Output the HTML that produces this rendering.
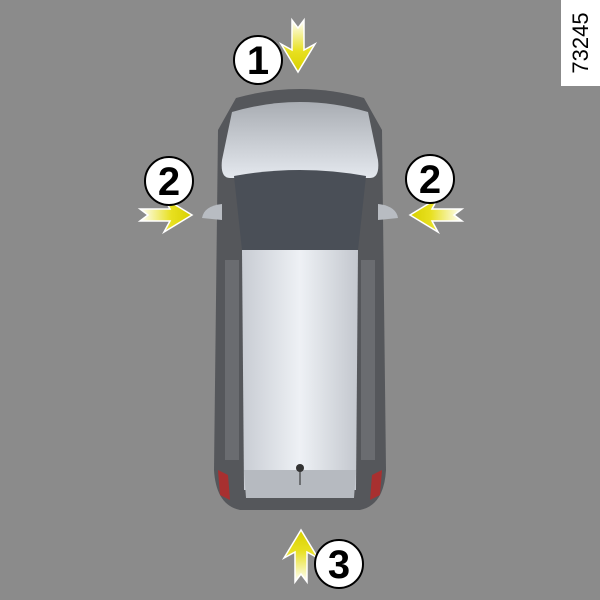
<!DOCTYPE html>
<html><head><style>body{margin:0;background:#8b8b8b}svg{display:block}</style></head><body>
<svg width="600" height="600" viewBox="0 0 600 600" xmlns="http://www.w3.org/2000/svg">
<defs>
<linearGradient id="ar" x1="0" y1="0" x2="1" y2="0"><stop offset="0" stop-color="#fff"/><stop offset="0.6" stop-color="#e8e020"/><stop offset="1" stop-color="#d8d000"/></linearGradient>
<linearGradient id="hood" x1="0" y1="0" x2="0" y2="1"><stop offset="0" stop-color="#a9adb3"/><stop offset="1" stop-color="#e4e8ee"/></linearGradient>
<linearGradient id="roof" x1="0" y1="0" x2="1" y2="0"><stop offset="0" stop-color="#c8ccd3"/><stop offset="0.5" stop-color="#eef1f5"/><stop offset="1" stop-color="#c3c7ce"/></linearGradient>
<g id="arrow"><path d="M0,-6 L30,-6 L24,-17 L52,0 L24,17 L30,6 L0,6 L8,0 Z" fill="url(#ar)" stroke="#fff" stroke-width="1.5"/></g>
</defs>
<rect width="600" height="600" fill="#8b8b8b"/>
<rect x="561" y="0" width="39" height="86" fill="#fff"/>
<text transform="translate(588,43) rotate(-90)" text-anchor="middle" font-family="Liberation Sans, sans-serif" font-size="22" fill="#000">73245</text>
<path d="M236,98 Q300,80 364,98 L382,130 L386,470 Q384,505 360,510 L240,510 Q216,505 214,470 L218,130 Z" fill="#55575b"/>
<path d="M232,112 Q300,92 368,112 L378,160 Q380,178 370,178 L230,178 Q220,178 222,160 Z" fill="url(#hood)"/>
<path d="M234,176 Q300,164 366,176 L358,250 L242,250 Z" fill="#4a4f57"/>
<path d="M242,250 L358,250 L356,490 L244,490 Z" fill="url(#roof)"/>
<path d="M244,470 L356,470 L354,498 L246,498 Z" fill="#b6bac0"/>
<rect x="225" y="260" width="14" height="200" fill="#6a6c70"/>
<rect x="361" y="260" width="14" height="200" fill="#6a6c70"/>
<path d="M218,470 L228,475 L230,500 L220,495 Z" fill="#a83030"/>
<path d="M382,470 L372,475 L370,500 L380,495 Z" fill="#a83030"/>
<path d="M202,218 Q204,206 222,204 L222,220 Z" fill="#b8bcc2"/>
<path d="M398,218 Q396,206 378,204 L378,220 Z" fill="#b8bcc2"/>
<line x1="300" y1="465" x2="300" y2="485" stroke="#222"/><circle cx="300" cy="468" r="4" fill="#333"/>
<use href="#arrow" transform="translate(140,215)"/>
<use href="#arrow" transform="translate(462,215) scale(-1,1)"/>
<use href="#arrow" transform="translate(298,20) rotate(90)"/>
<use href="#arrow" transform="translate(301,582) rotate(-90)"/>
<g font-family="Liberation Sans, sans-serif" font-weight="bold" font-size="40" text-anchor="middle" fill="#000">
<circle cx="258" cy="60" r="24" fill="#fff" stroke="#000" stroke-width="2"/><text x="258" y="74">1</text>
<circle cx="169" cy="181" r="24" fill="#fff" stroke="#000" stroke-width="2"/><text x="169" y="195">2</text>
<circle cx="430" cy="179" r="24" fill="#fff" stroke="#000" stroke-width="2"/><text x="430" y="193">2</text>
<circle cx="339" cy="564" r="24" fill="#fff" stroke="#000" stroke-width="2"/><text x="339" y="578">3</text>
</g>
</svg>
</body></html>
